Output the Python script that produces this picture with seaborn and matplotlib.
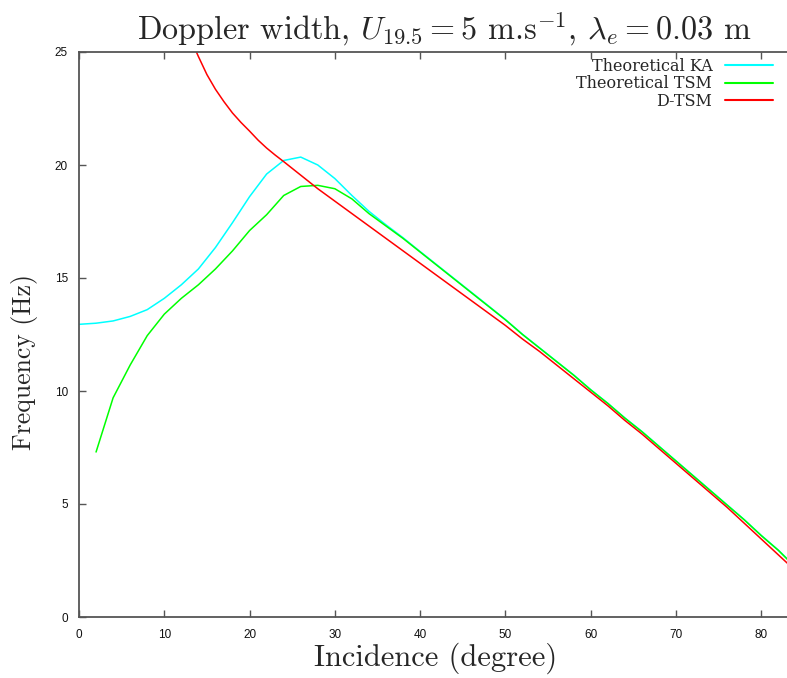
import matplotlib
matplotlib.use("Agg")
import matplotlib.pyplot as plt
import seaborn as sns
import pandas as pd
from matplotlib.lines import Line2D

# ---- data ----
ka_x = [0, 2, 4, 6, 8, 10, 12, 14, 16, 18, 20, 22, 24, 26, 28, 30, 32, 34, 36, 38,
        40, 42, 44, 46, 48, 50, 52, 54, 56, 58, 60, 62, 64, 66, 68, 70, 72, 74, 76,
        78, 80, 82, 84]
ka_y = [12.95, 13.0, 13.1, 13.3, 13.6, 14.1, 14.7, 15.4, 16.35, 17.45, 18.6, 19.6,
        20.2, 20.35, 20.0, 19.4, 18.65, 17.95, 17.35, 16.78, 16.17, 15.57, 14.97,
        14.37, 13.77, 13.16, 12.51, 11.91, 11.31, 10.71, 10.06, 9.46, 8.81, 8.21,
        7.56, 6.91, 6.26, 5.61, 4.96, 4.31, 3.61, 2.96, 2.22]

tsm_x = [2, 4, 6, 8, 10, 12, 14, 16, 18, 20, 22, 24, 26, 28, 30, 32, 34, 36, 38,
         40, 42, 44, 46, 48, 50, 52, 54, 56, 58, 60, 62, 64, 66, 68, 70, 72, 74, 76,
         78, 80, 82, 84]
tsm_y = [7.3, 9.7, 11.15, 12.45, 13.4, 14.1, 14.7, 15.4, 16.2, 17.1, 17.8, 18.65,
         19.05, 19.1, 18.95, 18.5, 17.85, 17.3, 16.75, 16.15, 15.55, 14.95, 14.35,
         13.75, 13.15, 12.5, 11.9, 11.3, 10.7, 10.05, 9.45, 8.8, 8.2, 7.55, 6.9,
         6.25, 5.6, 4.95, 4.3, 3.6, 2.95, 2.2]

dtsm_x = [12, 13, 14, 15, 16, 17, 18, 19, 20, 21, 22, 23, 24, 26, 28, 30, 32, 34,
          36, 38, 40, 42, 44, 46, 48, 50, 52, 54, 56, 58, 60, 62, 64, 66, 68, 70,
          72, 74, 76, 78, 80, 82, 84]
dtsm_y = [26.6, 25.65, 24.8, 24.0, 23.35, 22.8, 22.3, 21.88, 21.5, 21.1, 20.75,
          20.44, 20.15, 19.55, 18.95, 18.4, 17.85, 17.3, 16.75, 16.2, 15.65, 15.1,
          14.55, 14.0, 13.45, 12.9, 12.3, 11.75, 11.15, 10.55, 9.95, 9.35, 8.7,
          8.1, 7.45, 6.8, 6.15, 5.5, 4.85, 4.15, 3.45, 2.75, 2.05]

labels = ["Theoretical KA", "Theoretical TSM", "D-TSM"]
colors = ["#00ffff", "#00ff00", "#ff0000"]

df = pd.concat([
    pd.DataFrame({"x": ka_x, "y": ka_y, "s": labels[0]}),
    pd.DataFrame({"x": tsm_x, "y": tsm_y, "s": labels[1]}),
    pd.DataFrame({"x": dtsm_x, "y": dtsm_y, "s": labels[2]}),
], ignore_index=True)

sns.set_style("white")
plt.rcParams["mathtext.fontset"] = "cm"
plt.rcParams["axes.unicode_minus"] = False

W, H = 787, 678
fig = plt.figure(figsize=(W / 100, H / 100), dpi=100)
ax = fig.add_axes([79 / W, 1 - 617 / H, (787 - 79) / W + 0.002, (617 - 52) / H])

sns.lineplot(data=df, x="x", y="y", hue="s", palette=dict(zip(labels, colors)),
             hue_order=labels, ax=ax, linewidth=1.1, legend=False, sort=False,
             estimator=None)

ax.set_xlim(0, 83.2)
ax.set_ylim(0, 25)
ax.set_xticks(range(0, 81, 10))
ax.set_yticks(range(0, 26, 5))

for s in ["left", "bottom", "top"]:
    ax.spines[s].set_color("#555555")
    ax.spines[s].set_linewidth(1.3)
ax.spines["right"].set_visible(False)

ax.tick_params(direction="in", length=5, width=1.0, color="#555555",
               top=True, bottom=True, left=True, right=False, labelsize=8.5,
               labelcolor="#111111")
ax.tick_params(axis="x", pad=9)
ax.tick_params(axis="y", pad=8)
for t in ax.get_xticklabels() + ax.get_yticklabels():
    t.set_fontfamily("Liberation Sans")

cm = "cmr10"
ax.set_xlabel("Incidence (degree)", fontfamily=cm, fontsize=22)
ax.set_ylabel("Frequency (Hz)", fontfamily=cm, fontsize=18.5)
ax.xaxis.set_label_coords(0.503, -0.045)
ax.yaxis.set_label_coords(-0.058, 0.451)

fig.text(444 / W, 1 - 40 / H,
         r"Doppler width, $U_{19.5} = 5$ m.s$^{-1}$, $\lambda_e = 0.03$ m",
         fontfamily=cm, fontsize=23.2, ha="center", va="baseline")

handles = [Line2D([], [], color=c, lw=1.5) for c in colors]
leg = ax.legend(handles, labels, loc="upper right",
                bbox_to_anchor=(773 / W, 1 - 58 / H), bbox_transform=fig.transFigure,
                frameon=False, markerfirst=False,
                prop={"family": "DejaVu Serif", "size": 11.5},
                handlelength=3.0, handletextpad=0.8, labelspacing=0.02,
                borderaxespad=0, borderpad=0)

fig.savefig("out.png", dpi=100)
